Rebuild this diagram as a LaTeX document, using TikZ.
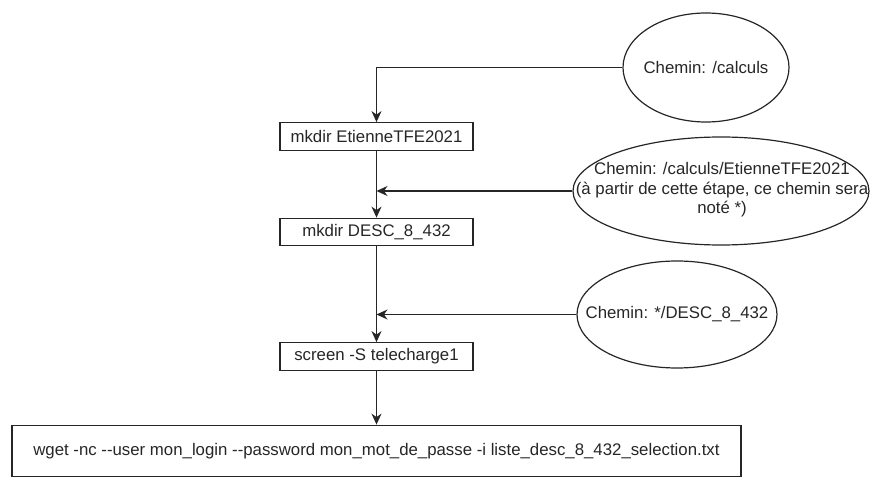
\documentclass[tikz,border=0pt]{standalone}
\usepackage{fontspec}
\setmainfont{Liberation Sans}
\usetikzlibrary{arrows.meta,shapes.geometric}
\newcommand{\dd}{-\kern0pt-}
\begin{document}
\begin{tikzpicture}[x=1pt,y=-1pt,
  every node/.style={font=\fontsize{16.8}{19.5}\selectfont, text=black!85},
  boxnode/.style={draw=black!85, line width=1.3pt, rectangle, inner sep=0pt, minimum width=193pt, minimum height=27.5pt},
  ellnode/.style={draw=black!85, line width=1.2pt, ellipse, inner sep=0pt},
  arr/.style={draw=black!85, line width=1.3pt, -{Stealth[length=11pt,width=10pt,inset=3.5pt]}}
]
\useasboundingbox (0,0) rectangle (870,478);
% boxes
\node[boxnode] (b1) at (376.5,136.5) {mkdir EtienneTFE2021};
\node[boxnode] (b2) at (376.5,232) {mkdir DESC\_8\_432};
\node[boxnode] (b3) at (376.5,356.5) {screen -S telecharge1};
\node[boxnode, minimum width=729pt, minimum height=51.5pt] (b4) at (376.5,451) {wget -nc \dd user mon\_login \dd password mon\_mot\_de\_passe -i liste\_desc\_8\_432\_selection.txt};
% ellipses
\node[ellnode, minimum width=166pt, minimum height=109pt] (e1) at (706,67.5) {};
\node (t1) at (e1.center) {Chemin: /calculs};
\node[ellnode, minimum width=296pt, minimum height=108pt] (e2) at (721,191) {};
\node[align=center] (t2) at (722,190) {Chemin: /calculs/EtienneTFE2021\\(à partir de cette étape, ce chemin sera\\noté *)};
\node[ellnode, minimum width=200pt, minimum height=107pt] (e3) at (677,314.5) {};
\node (t3) at (e3.center) {Chemin: */DESC\_8\_432};
% junctions
\coordinate (j2) at (b1.center |- e2.west);
\coordinate (j3) at (b1.center |- e3.west);
% connectors
\draw[arr] (e1.west) -| (b1.north);
\draw[arr] (b1.south) -- (b2.north);
\draw[arr] (e2.west) -- (j2);
\draw[arr] (b2.south) -- (b3.north);
\draw[arr] (e3.west) -- (j3);
\draw[arr] (b3.south) -- (b4.north);
\end{tikzpicture}
\end{document}
